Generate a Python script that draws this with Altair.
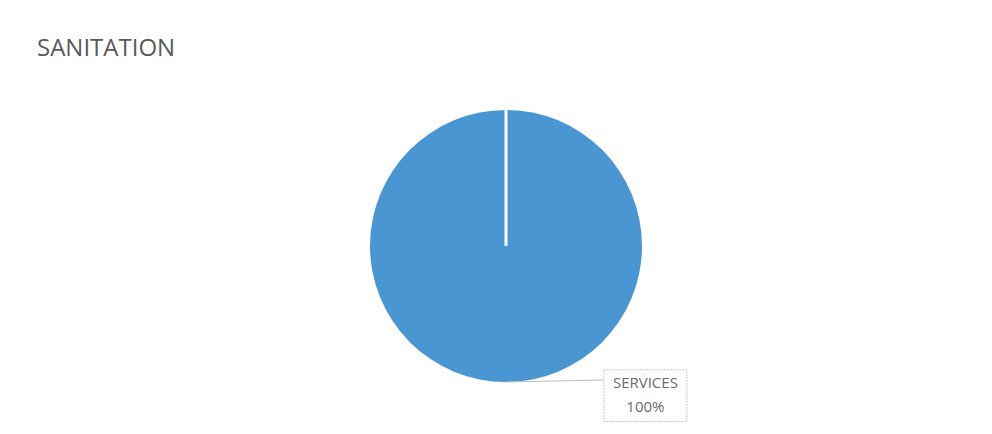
import math
import altair as alt
import pandas as pd

# ---- data ----
categories = ["SERVICES"]
values = [100]
title_text = "SANITATION"

# ---- layout constants ----
W, H = 992, 434
TOP = 70                 # room for the title
R = 136                  # pie radius in px (1 data unit)
CX, CY = 506, 246 - TOP  # pie center inside the view
PIE_COLOR = "#4A96D2"

xs = alt.Scale(domain=[-CX / R, (W - CX) / R], range=[0, W], nice=False, zero=False)
ys = alt.Scale(domain=[-(H - TOP - CY) / R, CY / R], nice=False, zero=False)

total = sum(values)
rows, edges, labels = [], [], []
cum = 0
for c, v in zip(categories, values):
    a0 = 2 * math.pi * cum / total
    a1 = 2 * math.pi * (cum + v) / total
    mid = (a0 + a1) / 2
    rows.append({"category": c, "value": v, "cx": 0.0, "cy": 0.0})
    edges.append({"x": 0.0, "y": 0.0, "x2": math.sin(a0), "y2": math.cos(a0)})
    # label anchored by offset from the slice's outer midpoint
    px, py = math.sin(mid), math.cos(mid)
    bx0, bx1 = px + 0.72, px + 1.33
    by0, by1 = py + 0.09, py - 0.29
    labels.append({
        "lx": px, "ly": py, "lx2": bx0, "ly2": py + 0.015,
        "bx0": bx0, "bx1": bx1, "by0": by0, "by1": by1,
        "tx": (bx0 + bx1) / 2, "t1": by0 - 0.135, "t2": by0 - 0.31,
        "name": c, "pct": f"{round(100 * v / total)}%",
    })
    cum += v

df = pd.DataFrame(rows)
edf = pd.DataFrame(edges)
ldf = pd.DataFrame(labels)

X = lambda f: alt.X(f, type="quantitative", scale=xs, axis=None)
Y = lambda f: alt.Y(f, type="quantitative", scale=ys, axis=None)

pie = alt.Chart(df).mark_arc(outerRadius=R, color=PIE_COLOR).encode(
    theta=alt.Theta("value:Q", stack=True),
    order=alt.Order("category:N"),
    x=X("cx"), y=Y("cy"),
)

edge = alt.Chart(edf).mark_rule(color="white", strokeWidth=3).encode(
    x=X("x"), y=Y("y"), x2="x2:Q", y2="y2:Q"
)

leader = alt.Chart(ldf).mark_rule(color="#bdbdbd", strokeWidth=1).encode(
    x=X("lx"), y=Y("ly"), x2="lx2:Q", y2="ly2:Q"
)

box = alt.Chart(ldf).mark_rect(fill="white", stroke="#c8c8c8", strokeWidth=1, strokeDash=[2, 1]).encode(
    x=X("bx0"), x2="bx1:Q", y=Y("by0"), y2="by1:Q"
)

t_name = alt.Chart(ldf).mark_text(font="Open Sans", fontSize=15, color="#6b6b6b", baseline="alphabetic").encode(
    x=X("tx"), y=Y("t1"), text="name:N"
)
t_pct = alt.Chart(ldf).mark_text(font="Open Sans", fontSize=15, color="#6b6b6b", baseline="alphabetic").encode(
    x=X("tx"), y=Y("t2"), text="pct:N"
)

chart = alt.layer(pie, edge, leader, box, t_name, t_pct).properties(
    width=W, height=H - TOP,
    title=alt.Title(title_text, anchor="start", dx=37, dy=25, offset=15, baseline="alphabetic",
                    font="Open Sans", fontSize=24, fontWeight="normal", color="#595959"),
    autosize=alt.AutoSizeParams(type="none"),
    padding={"left": 0, "right": 0, "top": TOP, "bottom": 0},
).configure(background="white", view=alt.ViewConfig(stroke=None))

chart.save("out.html", embed_options={"renderer": "svg", "actions": False})
